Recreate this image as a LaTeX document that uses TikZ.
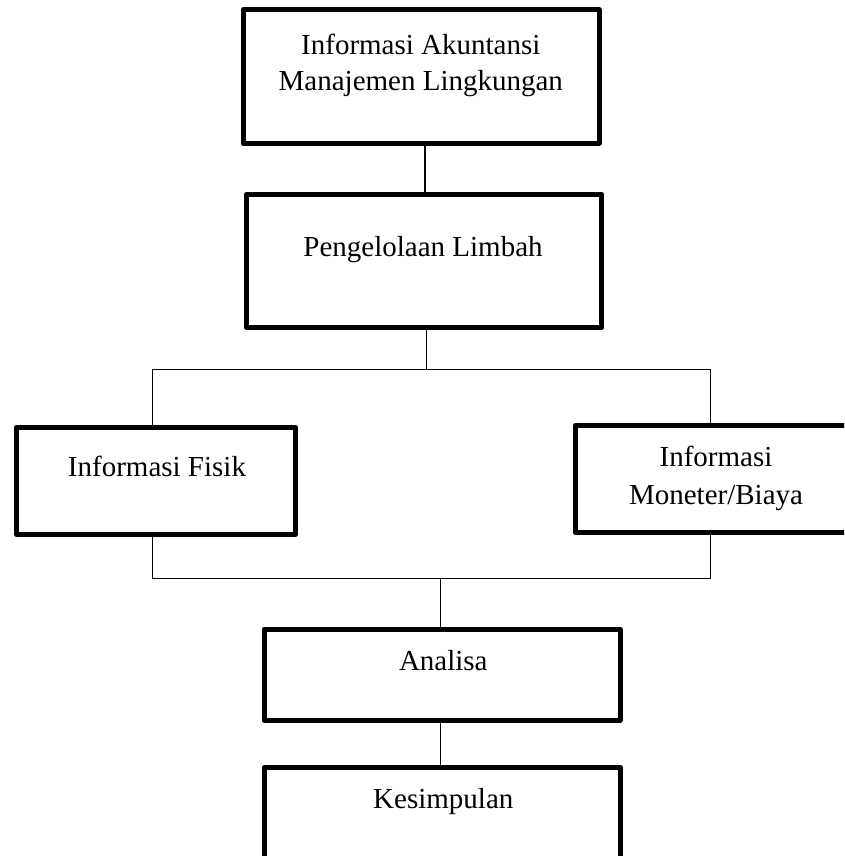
\documentclass[tikz,border=0pt]{standalone}
\usepackage{fontspec}
\setmainfont{Liberation Serif}
\begin{document}
\begin{tikzpicture}[x=1pt,y=1pt,
  boxstyle/.style={draw=black,line width=5pt,line join=round,inner sep=0pt,rectangle},
  conn/.style={draw=black,line width=1.3pt},
  txt/.style={anchor=base,inner sep=0pt,font=\fontsize{29}{36}\selectfont}]
\useasboundingbox (0,0) rectangle (844,-856);
\clip (0,0) rectangle (844,-856);
% boxes
\node[boxstyle,minimum width=355.7pt,minimum height=133.4pt] (b1) at (421.4,-76.5) {};
\node[boxstyle,minimum width=355.3pt,minimum height=133.3pt] (b2) at (424.2,-260.9) {};
\node[boxstyle,minimum width=279pt,minimum height=107pt] (b3) at (156,-481) {};
\node[boxstyle,minimum width=294.8pt,minimum height=106.7pt] (b4) at (722.6,-479.2) {};
\node[boxstyle,minimum width=356pt,minimum height=91pt] (b5) at (442.2,-674.7) {};
\node[boxstyle,minimum width=356pt,minimum height=132.5pt] (b6) at (442.2,-833.75) {};
% texts
\node[txt] (t1a) at (420.8,-54.3) {Informasi Akuntansi};
\node[txt] (t1b) at (420.8,-90.7) {Manajemen Lingkungan};
\node[txt] (t2) at (423,-256) {Pengelolaan Limbah};
\node[txt] (t3) at (157,-476) {Informasi Fisik};
\node[txt] (t4a) at (716,-466) {Informasi};
\node[txt] (t4b) at (716,-504) {Moneter/Biaya};
\node[txt] (t5) at (443.3,-670) {Analisa};
\node[txt] (t6) at (443.3,-808.3) {Kesimpulan};
% junctions
\coordinate (jt) at (426.5,-369.3);
\coordinate (jl) at (152.3,-369.3);
\coordinate (jr) at (710.7,-369.3);
\coordinate (bl) at (152.3,-578.3);
\coordinate (br) at (710.7,-578.3);
\coordinate (bm) at (440.7,-578.3);
\coordinate (ct) at (425,-100);
% connectors
\draw[conn] (b1.south -| ct) -- (b2.north -| ct);
\draw[conn] (b2.south -| jt) -- (jt);
\draw[conn] (jl) -- (jr);
\draw[conn] (jl) -- (jl |- b3.north);
\draw[conn] (jr) -- (jr |- b4.north);
\draw[conn] (bl |- b3.south) -- (bl) -- (br) -- (br |- b4.south);
\draw[conn] (bm) -- (bm |- b5.north);
\draw[conn] (b5.south -| bm) -- (b6.north -| bm);
\end{tikzpicture}
\end{document}
